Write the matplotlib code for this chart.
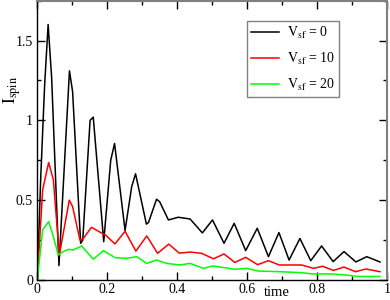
import matplotlib
matplotlib.use('Agg')
import matplotlib.pyplot as plt
from matplotlib.ticker import MultipleLocator, FuncFormatter

plt.rcParams['font.family'] = ['Liberation Serif', 'DejaVu Serif']
plt.rcParams['mathtext.fontset'] = 'stix'

# ---- data ----
t_v0 = [0, 0.01, 0.021, 0.031, 0.041, 0.062, 0.092, 0.101, 0.124, 0.13, 0.151, 0.16, 0.19,
        0.21, 0.221, 0.251, 0.27, 0.281, 0.312, 0.318, 0.341, 0.35, 0.375, 0.403, 0.437, 0.472,
        0.501, 0.534, 0.563, 0.596, 0.629, 0.661, 0.691, 0.72, 0.751, 0.782, 0.813, 0.846,
        0.877, 0.911, 0.942, 0.98]
i_v0 = [0, 0.65, 1.22, 1.60, 1.27, 0.09, 1.31, 1.18, 0.23, 0.25, 1.00, 1.02, 0.24,
        0.75, 0.855, 0.31, 0.585, 0.665, 0.35, 0.36, 0.506, 0.49, 0.376, 0.393, 0.382, 0.295,
        0.376, 0.23, 0.355, 0.184, 0.324, 0.146, 0.297, 0.125, 0.26, 0.121, 0.213, 0.115,
        0.178, 0.113, 0.146, 0.113]

t_v10 = [0, 0.0154, 0.0325, 0.046, 0.063, 0.0915, 0.101, 0.122, 0.1316, 0.155, 0.179, 0.196,
         0.222, 0.251, 0.282, 0.313, 0.344, 0.376, 0.406, 0.437, 0.47, 0.504, 0.534, 0.565,
         0.596, 0.63, 0.661, 0.692, 0.756, 0.79, 0.816, 0.847, 0.877, 0.91, 0.94, 0.98]
i_v10 = [0, 0.565, 0.736, 0.627, 0.157, 0.50, 0.46, 0.25, 0.26, 0.33, 0.30, 0.28,
         0.226, 0.305, 0.181, 0.276, 0.167, 0.225, 0.168, 0.175, 0.167, 0.133, 0.163, 0.110,
         0.142, 0.096, 0.121, 0.094, 0.094, 0.073, 0.086, 0.060, 0.081, 0.052, 0.069, 0.052]

t_v20 = [0, 0.0154, 0.0325, 0.046, 0.06, 0.074, 0.089, 0.103, 0.127, 0.16, 0.189, 0.222,
         0.256, 0.284, 0.313, 0.341, 0.37, 0.408, 0.437, 0.475, 0.502, 0.565, 0.599, 0.632,
         0.694, 0.756, 0.785, 0.838, 0.885, 0.913, 0.98]
i_v20 = [0, 0.314, 0.366, 0.272, 0.157, 0.178, 0.192, 0.188, 0.213, 0.13, 0.184, 0.14,
         0.136, 0.146, 0.104, 0.125, 0.104, 0.094, 0.104, 0.073, 0.088, 0.067, 0.073, 0.056,
         0.052, 0.046, 0.038, 0.038, 0.031, 0.022, 0.022]

labels = [r'$\mathrm{V_{sf}}$ = 0', r'$\mathrm{V_{sf}}$ = 10', r'$\mathrm{V_{sf}}$ = 20']
colors = ['black', '#ff0000', '#00ff00']

fig = plt.figure(figsize=(3.9, 3.0), dpi=100)
ax = fig.add_axes([0.0956, 0.0667, 0.8967, 0.9313])

for t, v, lab, c in zip([t_v0, t_v10, t_v20], [i_v0, i_v10, i_v20], labels, colors):
    ax.plot(t, v, color=c, lw=1.1, label=lab)

ax.set_xlim(0, 1)
ax.set_ylim(0, 1.75)
ax.xaxis.set_major_locator(MultipleLocator(0.2))
ax.xaxis.set_minor_locator(MultipleLocator(0.1))
ax.yaxis.set_major_locator(MultipleLocator(0.5))
ax.yaxis.set_minor_locator(MultipleLocator(0.25))
ax.xaxis.set_major_formatter(FuncFormatter(lambda x, p: f'{x:g}'))
ax.yaxis.set_major_formatter(FuncFormatter(lambda x, p: f'{x:g}'))

ax.tick_params(which='both', direction='in', top=True, right=True, labelsize=10, width=1)
ax.tick_params(which='major', length=6)
ax.tick_params(which='minor', length=3)
ax.tick_params(axis='x', pad=2.5)
ax.tick_params(axis='y', pad=3)

for s in ['left', 'bottom']:
    ax.spines[s].set_linewidth(1)
for s in ['top', 'right']:
    ax.spines[s].set_color('#808080')
    ax.spines[s].set_linewidth(1.5)

ax.set_xlabel('time', fontsize=10.5)
ax.xaxis.set_label_coords(0.685, -0.02)
ax.set_ylabel(r'$\mathrm{I_{spin}}$', fontsize=12.5)
ax.yaxis.set_label_coords(-0.04, 0.68)

leg = ax.legend(loc='upper left', bbox_to_anchor=(0.6, 0.928), borderaxespad=0,
                fontsize=10, handlelength=2.0, handletextpad=0.55, labelspacing=0.7,
                fancybox=False, framealpha=1, edgecolor='#808080', borderpad=0.3)
leg.get_frame().set_linewidth(1)

fig.savefig('out.png', dpi=100)
